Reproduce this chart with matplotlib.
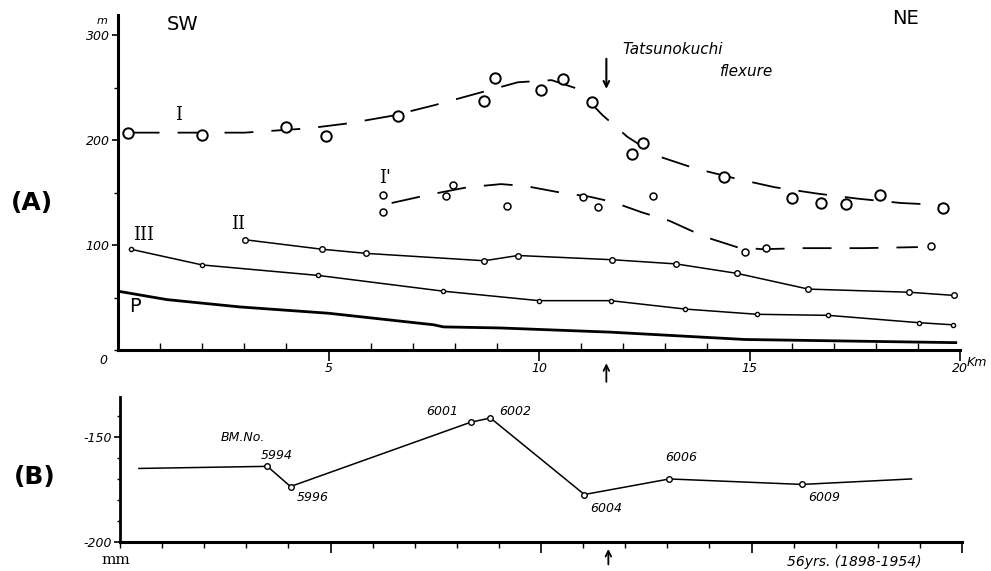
import matplotlib.pyplot as plt
from matplotlib.ticker import MultipleLocator

# ---- (A) terrace profiles: distance (km) vs height (m) ----
terrace1_km = [0.24, 2.0, 4.0, 4.95, 6.66, 8.7, 8.95, 10.05, 10.57, 11.25, 12.2, 12.47,
               14.4, 16.0, 16.7, 17.3, 18.1, 19.6]
terrace1_m = [207, 205, 212, 204, 223, 237, 259, 248, 258, 236, 187, 197,
              165, 145, 140, 139, 148, 135]
# dashed trend line drawn through terrace I
trend1_km = [0.3, 1.5, 3.0, 4.5, 5.5, 6.5, 7.5, 8.5, 9.5, 10.3, 10.9, 11.5, 12.1, 12.8,
             13.7, 14.7, 15.6, 16.6, 17.6, 18.6, 19.6]
trend1_m = [207, 207, 207, 211, 216, 223, 233, 244, 255, 257, 249, 224, 203, 185,
            173, 163, 155, 149, 144, 140, 138]

terrace1p_km = [6.3, 6.3, 7.8, 7.96, 9.24, 11.05, 11.4, 12.7, 14.9, 15.4, 19.3]
terrace1p_m = [148, 131, 147, 157, 137, 146, 136, 147, 93, 97, 99]
trend1p_km = [6.5, 7.4, 8.3, 9.1, 9.7, 10.5, 11.2, 11.75, 12.45, 13.1, 13.65, 14.0,
              14.7, 15.3, 16.3, 17.7, 19.0]
trend1p_m = [140, 148, 155, 158, 156, 150, 146, 141, 131, 123, 113, 107,
             98, 96, 97, 97, 98]

terrace2_km = [3.02, 4.84, 5.9, 8.7, 9.5, 11.73, 13.25, 14.7, 16.4, 18.8, 19.85]
terrace2_m = [105, 96, 92, 85, 90, 86, 82, 73, 58, 55, 52]

terrace3_km = [0.3, 2.0, 4.76, 7.73, 10.0, 11.7, 13.47, 15.18, 16.87, 19.03, 19.83]
terrace3_m = [96, 81, 71, 56, 47, 47, 39, 34, 33, 26, 24]

plain_km = [0.0, 1.16, 2.9, 5.0, 7.5, 7.73, 9.07, 11.7, 14.9, 19.9]
plain_m = [56, 48, 41, 35, 24, 22, 21, 17, 10, 7]

# ---- (B) levelling change 1898-1954 (mm) ----
bm_km = [0.45, 3.5, 4.05, 8.33, 8.8, 11.03, 13.05, 16.2, 18.8]
bm_mm = [-165, -164, -173.6, -143, -141, -177.4, -170, -172.6, -170]
bm_marked = [False, True, True, True, True, True, True, True, False]
bm_names = ["5994", "5996", "6001", "6002", "6004", "6006", "6009"]
bm_label_km = [3.73, 4.58, 7.65, 9.38, 11.54, 13.33, 16.72]
bm_label_mm = [-158.7, -178.8, -138, -138, -184, -159.6, -178.8]

flexure_km = 11.6

fig = plt.figure(figsize=(9.91, 5.71), dpi=100)
axA = fig.add_axes([118 / 991, 1 - 350 / 571, 842 / 991, 336 / 571])
axB = fig.add_axes([120 / 991, 1 - 542 / 571, 842 / 991, 145 / 571])

tick_font = dict(family="DejaVu Sans", style="italic", size=9)
roman = dict(family="DejaVu Serif", size=13)

# ========================
# (A)
# ========================
dash = (0, (16, 10))
axA.plot(trend1_km, trend1_m, color="black", lw=1.3, linestyle=dash)
axA.plot(terrace1_km, terrace1_m, linestyle="none", marker="o", ms=7.5, mfc="white",
         mec="black", mew=1.4)
axA.plot(trend1p_km, trend1p_m, color="black", lw=1.3, linestyle=dash)
axA.plot(terrace1p_km, terrace1p_m, linestyle="none", marker="o", ms=5, mfc="white",
         mec="black", mew=1.1)
axA.plot(terrace2_km, terrace2_m, color="black", lw=1.1, marker="o", ms=4, mfc="white",
         mec="black", mew=1.0)
axA.plot(terrace3_km, terrace3_m, color="black", lw=1.1, marker="o", ms=3, mfc="white",
         mec="black", mew=1.0)
axA.plot(plain_km, plain_m, color="black", lw=2.0)

axA.set_xlim(0, 20)
axA.set_ylim(0, 320)
for s in ["top", "right"]:
    axA.spines[s].set_visible(False)
axA.spines["left"].set_linewidth(2.2)
axA.spines["bottom"].set_linewidth(2.2)
axA.spines["left"].set_bounds(0, 319)

axA.set_xticks([5, 10, 15, 20])
axA.set_xticklabels(["5", "10", "15", "20"], **tick_font)
axA.xaxis.set_minor_locator(MultipleLocator(1))
axA.tick_params(axis="x", which="major", direction="out", length=8, width=1.2, pad=1)
axA.tick_params(axis="x", which="minor", direction="in", length=5, width=1.0)
axA.set_yticks([100, 200, 300])
axA.set_yticklabels(["100", "200", "300"], **tick_font)
axA.yaxis.set_minor_locator(MultipleLocator(50))
axA.tick_params(axis="y", which="major", direction="out", length=4, width=1.2, pad=2)
axA.tick_params(axis="y", which="minor", direction="out", length=3, width=1.0)
axA.text(-0.5, 313, "m", ha="left", va="center", family="DejaVu Sans",
         style="italic", size=8)
axA.text(-0.25, -10, "0", ha="right", va="center", **tick_font)
axA.text(20.15, -12, "Km", ha="left", va="center", family="DejaVu Sans",
         style="italic", size=9)

axA.text(1.44, 224, "I", ha="center", va="center", **roman)
axA.text(6.35, 164, "I'", ha="center", va="center", **roman)
axA.text(2.85, 120, "II", ha="center", va="center", **roman)
axA.text(0.6, 110, "III", ha="center", va="center", **roman)
axA.text(0.4, 41, "P", ha="center", va="center", family="DejaVu Sans", size=14)

axA.text(11.97, 286, "Tatsunokuchi", ha="left", va="center", family="DejaVu Sans",
         style="italic", size=11)
axA.text(14.3, 265, "flexure", ha="left", va="center", family="DejaVu Sans",
         style="italic", size=11)
axA.annotate("", xy=(flexure_km, 246), xytext=(flexure_km, 280),
             arrowprops=dict(arrowstyle="->", color="black", lw=1.5))
axA.annotate("", xy=(flexure_km, -10), xytext=(flexure_km, -33),
             arrowprops=dict(arrowstyle="->", color="black", lw=1.3),
             annotation_clip=False)

# ========================
# (B)
# ========================
axB.plot(bm_km, bm_mm, color="black", lw=1.1)
axB.plot([k for k, m in zip(bm_km, bm_marked) if m],
         [v for v, m in zip(bm_mm, bm_marked) if m],
         linestyle="none", marker="o", ms=4, mfc="white", mec="black", mew=1.0)
axB.set_xlim(0, 20)
axB.set_ylim(-200, -131)
for s in ["top", "right"]:
    axB.spines[s].set_visible(False)
axB.spines["left"].set_linewidth(2.0)
axB.spines["bottom"].set_linewidth(2.2)

axB.set_xticks([5, 10, 15, 20])
axB.set_xticklabels([])
axB.xaxis.set_minor_locator(MultipleLocator(1))
axB.tick_params(axis="x", which="major", direction="out", length=8, width=1.2)
axB.tick_params(axis="x", which="minor", direction="out", length=4, width=1.0)
axB.set_yticks([-150, -200])
axB.set_yticklabels(["-150", "-200"], **tick_font)
axB.yaxis.set_minor_locator(MultipleLocator(10))
axB.tick_params(axis="y", which="major", direction="out", length=4, width=1.2, pad=2)
axB.tick_params(axis="y", which="minor", direction="out", length=2, width=1.0)

axB.text(2.92, -150.5, "BM.No.", ha="center", va="center", **tick_font)
for name, x, y in zip(bm_names, bm_label_km, bm_label_mm):
    axB.text(x, y, name, ha="center", va="center", **tick_font)
axB.annotate("", xy=(flexure_km, -202), xytext=(flexure_km, -212),
             arrowprops=dict(arrowstyle="->", color="black", lw=1.3),
             annotation_clip=False)

# ---- figure-level labels ----
fig.text(183 / 991, 1 - 25 / 571, "SW", ha="center", va="center", size=14)
fig.text(905 / 991, 1 - 18 / 571, "NE", ha="center", va="center", size=14)
fig.text(32 / 991, 1 - 203 / 571, "(A)", ha="center", va="center", size=18,
         weight="bold")
fig.text(35 / 991, 1 - 477 / 571, "(B)", ha="center", va="center", size=18,
         weight="bold")
fig.text(116 / 991, 1 - 560 / 571, "mm", ha="center", va="center",
         family="DejaVu Serif", size=11)
fig.text(854 / 991, 1 - 562 / 571, "56yrs. (1898-1954)", ha="center", va="center",
         family="DejaVu Sans", style="italic", size=10)

fig.savefig("out.png", dpi=100)
